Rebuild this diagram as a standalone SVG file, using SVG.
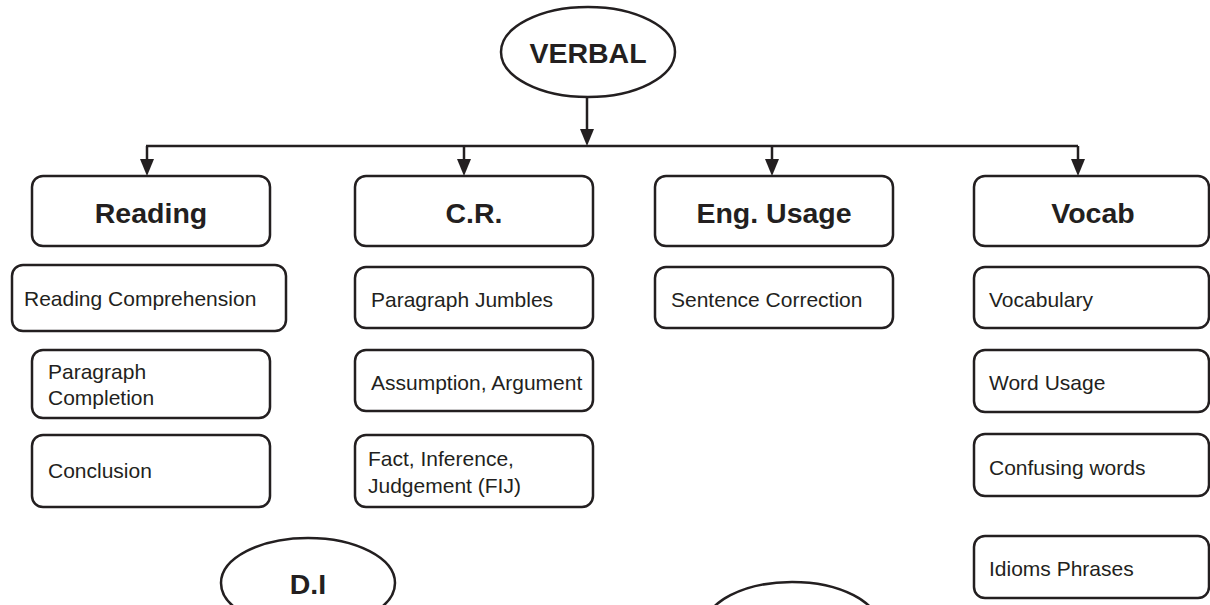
<svg xmlns="http://www.w3.org/2000/svg" width="1210" height="605" viewBox="0 0 1210 605">
<style>
.box{fill:#fff;stroke:#231f20;stroke-width:2.5}
.ell{fill:#fff;stroke:#231f20;stroke-width:2.5}
.h{font-family:"Liberation Sans",Arial,sans-serif;font-weight:bold;font-size:28.5px;fill:#231f20;text-anchor:middle}
.t{font-family:"Liberation Sans",Arial,sans-serif;font-size:21px;fill:#231f20}
.ln{fill:none;stroke:#231f20;stroke-width:2.5}
.ah{fill:#231f20}
</style>
<rect width="1210" height="605" fill="#fff"/>
<g id="connectors">
<path class="ln" d="M587,97 V130"/>
<path class="ah" d="M580,129 L594,129 L587,146 Z"/>
<path class="ln" d="M146,146 H1078"/>
<path class="ln" d="M147,146 V160"/>
<path class="ah" d="M140,159 L154,159 L147,176 Z"/>
<path class="ln" d="M464,146 V160"/>
<path class="ah" d="M457,159 L471,159 L464,176 Z"/>
<path class="ln" d="M772,146 V160"/>
<path class="ah" d="M765,159 L779,159 L772,176 Z"/>
<path class="ln" d="M1078,146 V160"/>
<path class="ah" d="M1071,159 L1085,159 L1078,176 Z"/>
</g>
<g id="verbal">
<ellipse class="ell" cx="588" cy="52" rx="87" ry="45"/>
<text class="h" x="588" y="63">VERBAL</text>
</g>
<g id="reading">
<rect class="box" x="32" y="176" width="238" height="70" rx="11"/>
<text class="h" x="151" y="223">Reading</text>
</g>
<g id="cr">
<rect class="box" x="355" y="176" width="238" height="70" rx="11"/>
<text class="h" x="474" y="223">C.R.</text>
</g>
<g id="eng">
<rect class="box" x="655" y="176" width="238" height="70" rx="11"/>
<text class="h" x="774" y="223">Eng. Usage</text>
</g>
<g id="vocab">
<rect class="box" x="974" y="176" width="235" height="70" rx="11"/>
<text class="h" x="1093" y="223">Vocab</text>
</g>
<g id="rc">
<rect class="box" x="12" y="265" width="274" height="66" rx="11"/>
<text class="t" x="24" y="306">Reading Comprehension</text>
</g>
<g id="pc">
<rect class="box" x="32" y="350" width="238" height="68" rx="11"/>
<text class="t" x="48" y="379">Paragraph</text>
<text class="t" x="48" y="405">Completion</text>
</g>
<g id="conclusion">
<rect class="box" x="32" y="435" width="238" height="72" rx="11"/>
<text class="t" x="48" y="478">Conclusion</text>
</g>
<g id="pj">
<rect class="box" x="355" y="267" width="238" height="61" rx="11"/>
<text class="t" x="371" y="307">Paragraph Jumbles</text>
</g>
<g id="aa">
<rect class="box" x="355" y="350" width="238" height="61" rx="11"/>
<text class="t" x="371" y="390">Assumption, Argument</text>
</g>
<g id="fij">
<rect class="box" x="355" y="435" width="238" height="72" rx="11"/>
<text class="t" x="368" y="466">Fact, Inference,</text>
<text class="t" x="368" y="493">Judgement (FIJ)</text>
</g>
<g id="sc">
<rect class="box" x="655" y="267" width="238" height="61" rx="11"/>
<text class="t" x="671" y="307">Sentence Correction</text>
</g>
<g id="vocabulary">
<rect class="box" x="974" y="267" width="235" height="61" rx="11"/>
<text class="t" x="989" y="307">Vocabulary</text>
</g>
<g id="wu">
<rect class="box" x="974" y="350" width="235" height="62" rx="11"/>
<text class="t" x="989" y="390">Word Usage</text>
</g>
<g id="cw">
<rect class="box" x="974" y="434" width="235" height="62" rx="11"/>
<text class="t" x="989" y="475">Confusing words</text>
</g>
<g id="ip">
<rect class="box" x="974" y="536" width="235" height="62" rx="11"/>
<text class="t" x="989" y="576">Idioms Phrases</text>
</g>
<g id="di">
<ellipse class="ell" cx="308" cy="583" rx="87" ry="45"/>
<text class="h" x="308" y="594">D.I</text>
</g>
<g id="bottom-ellipse">
<ellipse class="ell" cx="792" cy="627" rx="87" ry="45"/>
</g>
</svg>
